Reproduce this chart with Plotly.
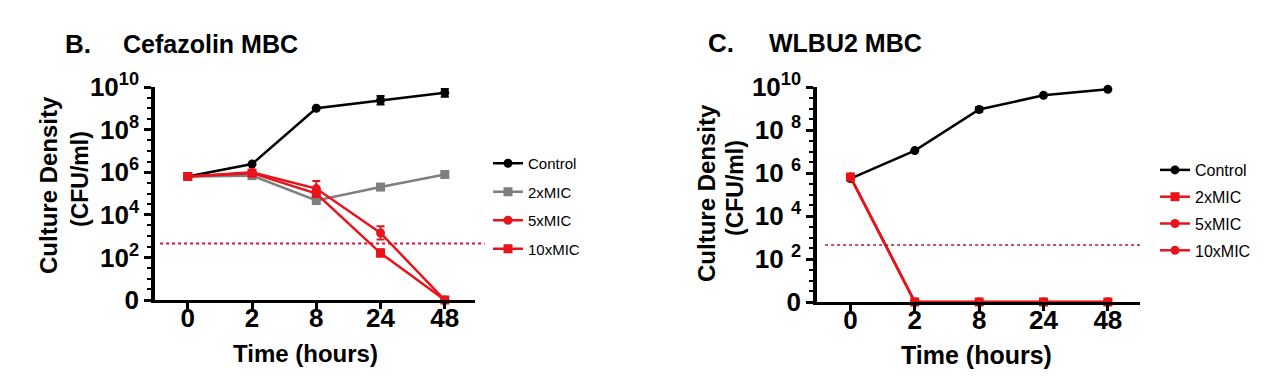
import plotly.graph_objects as go

# ---------------- data ----------------
time_labels = ["0", "2", "8", "24", "48"]

# Panel B: Cefazolin MBC (CFU/ml); 0 = below detection (plotted on the "0" baseline)
cef_control = [6.3e5, 2.4e6, 1.0e9, 2.4e9, 5.4e9]
cef_control_err_up = [0, 0, 0, 1.4e9, 2.6e9]
cef_control_err_dn = [0, 0, 0, 0.9e9, 1.9e9]
cef_2x = [6.3e5, 6.9e5, 4.7e4, 2.0e5, 7.8e5]
cef_5x = [6.3e5, 1.0e6, 1.7e5, 1.4e3, 0]
cef_5x_err_up = [0, 0, 2.2e5, 1.5e3, 0]
cef_5x_err_dn = [0, 0, 0.8e5, 0.7e3, 0]
cef_10x = [6.3e5, 9.0e5, 1.0e5, 1.6e2, 0]
cef_10x_err_up = [0, 0, 0, 8e1, 0]
cef_10x_err_dn = [0, 0, 0, 5e1, 0]

# Panel C: WLBU2 MBC
wl_control = [5.5e5, 1.1e7, 9.0e8, 4.1e9, 7.8e9]
wl_control_err_up = [0, 0, 2.5e8, 0, 0]
wl_control_err_dn = [0, 0, 2.0e8, 0, 0]
wl_2x = [6.5e5, 0, 0, 0, 0]
wl_5x = [6.5e5, 0, 0, 0, 0]
wl_10x = [6.5e5, 0, 0, 0, 0]

detection_limit = 450  # CFU/ml dotted line

ytick_vals = [1, 1e2, 1e4, 1e6, 1e8, 1e10]
ytick_text_b = ["0", "10<sup>2</sup>", "10<sup>4</sup>", "10<sup>6</sup>", "10<sup>8</sup>", "10<sup>10</sup>"]
ytick_text_c = ["0", "10 <sup>2</sup>", "10 <sup>4</sup>", "10 <sup>6</sup>", "10 <sup>8</sup>", "10<sup>10</sup>"]

# ---------------- style ----------------
BLACK = "#000000"
GRAY = "#7f7f7f"
RED = "#e8141c"
FONT = "Liberation Sans, Arial, sans-serif"
W, H = 1280, 384
DX, DY = 8, 8  # page offset of the plot div inside the browser window


def plot_vals(vals):
    # zero counts are drawn on the "0" baseline (10^0)
    return [v if v > 0 else 1 for v in vals]


def px_x(p):
    return (p - DX) / W


def px_y(p):
    return 1 - (p - DY) / H


fig = go.Figure()


def add_series(name, vals, color, symbol, xaxis, yaxis, legend, group,
               err_up=None, err_dn=None):
    tr = dict(
        x=time_labels,
        y=plot_vals(vals),
        name=name,
        mode="lines+markers",
        line=dict(color=color, width=2.5),
        marker=dict(color=color, symbol=symbol, size=9),
        xaxis=xaxis,
        yaxis=yaxis,
        legend=legend,
        legendgroup=group,
        cliponaxis=False,
    )
    if err_up is not None:
        tr["error_y"] = dict(type="data", symmetric=False, array=err_up,
                             arrayminus=err_dn, visible=True, color=color,
                             thickness=2, width=4)
    fig.add_trace(go.Scatter(**tr))


# Panel B
add_series("Control", cef_control, BLACK, "circle", "x", "y", "legend", "b1",
           cef_control_err_up, cef_control_err_dn)
add_series("2xMIC", cef_2x, GRAY, "square", "x", "y", "legend", "b2")
add_series("5xMIC", cef_5x, RED, "circle", "x", "y", "legend", "b3",
           cef_5x_err_up, cef_5x_err_dn)
add_series("10xMIC", cef_10x, RED, "square", "x", "y", "legend", "b4",
           cef_10x_err_up, cef_10x_err_dn)

# Panel C
add_series("Control", wl_control, BLACK, "circle", "x2", "y2", "legend2", "c1",
           wl_control_err_up, wl_control_err_dn)
add_series("2xMIC", wl_2x, RED, "square", "x2", "y2", "legend2", "c2")
add_series("5xMIC", wl_5x, RED, "circle", "x2", "y2", "legend2", "c3")
add_series("10xMIC", wl_10x, RED, "circle", "x2", "y2", "legend2", "c4")

minor_vals = [10 ** (k / 2) for k in range(0, 21)]


def yaxis_cfg(domain, ticktext, anchor):
    return dict(
        type="log", range=[0, 10], domain=domain, anchor=anchor,
        tickmode="array", tickvals=ytick_vals, ticktext=ticktext,
        ticks="outside", ticklen=7, tickwidth=2.5, tickcolor=BLACK,
        showline=True, linecolor=BLACK, linewidth=3.5,
        showgrid=False, zeroline=False, automargin=False,
        tickfont=dict(family=FONT, size=26, color=BLACK, weight="bold"),
        minor=dict(tickmode="array", tickvals=minor_vals, ticks="outside",
                   ticklen=4, tickwidth=2, tickcolor=BLACK, showgrid=False),
    )


def xaxis_cfg(domain, rng, anchor):
    return dict(
        type="category", domain=domain, range=rng, anchor=anchor,
        ticks="outside", ticklen=6, tickwidth=2.5, tickcolor=BLACK,
        ticklabelstandoff=-13,
        showline=True, linecolor=BLACK, linewidth=3,
        showgrid=False, zeroline=False, automargin=False,
        tickfont=dict(family=FONT, size=26, color=BLACK, weight="bold"),
    )


fig.update_layout(
    width=W, height=H, autosize=False,
    margin=dict(l=0, r=0, t=0, b=0, pad=0, autoexpand=False),
    paper_bgcolor="white", plot_bgcolor="white",
    font=dict(family=FONT, color=BLACK),
    xaxis=xaxis_cfg([px_x(155), px_x(475)], [-0.51, 4.47], "y"),
    yaxis=yaxis_cfg([px_y(300), px_y(87)], ytick_text_b, "x"),
    xaxis2=xaxis_cfg([px_x(817), px_x(1140)], [-0.52, 4.5], "y2"),
    yaxis2=yaxis_cfg([px_y(302), px_y(87)], ytick_text_c, "x2"),
    legend=dict(x=px_x(488), y=px_y(147), xanchor="left", yanchor="top",
                font=dict(family=FONT, size=15, color=BLACK),
                itemwidth=30, tracegroupgap=6, bgcolor="rgba(0,0,0,0)"),
    legend2=dict(x=px_x(1155), y=px_y(153), xanchor="left", yanchor="top",
                 font=dict(family=FONT, size=16, color=BLACK),
                 itemwidth=30, tracegroupgap=3, bgcolor="rgba(0,0,0,0)"),
    showlegend=True,
)

# detection-limit dotted lines
fig.add_shape(type="line", xref="x domain", yref="y", x0=0.016, x1=1.03,
              y0=detection_limit, y1=detection_limit,
              line=dict(color="#d0103a", width=2, dash="dot"))
fig.add_shape(type="line", xref="x2 domain", yref="y2", x0=0.025, x1=1.0,
              y0=detection_limit, y1=detection_limit,
              line=dict(color="#a01a3a", width=1.5, dash="dot"))


# text annotations
def ann(text, x, y, size, angle=0, xanchor="center"):
    fig.add_annotation(text=text, x=px_x(x), y=px_y(y), xref="paper", yref="paper",
                       showarrow=False, textangle=angle, xanchor=xanchor, yanchor="middle",
                       font=dict(family=FONT, size=size, color=BLACK, weight="bold"))


ann("B.", 63, 44, 26, xanchor="left")
ann("Cefazolin MBC", 121, 44, 25, xanchor="left")
ann("C.", 706, 43, 26, xanchor="left")
ann("WLBU2 MBC", 767, 43, 25, xanchor="left")

ann("Culture Density", 48, 185, 24, angle=-90)
ann("(CFU/ml)", 80, 179, 23, angle=-90)
ann("Culture Density", 707, 193, 24, angle=-90)
ann("(CFU/ml)", 735, 188, 23, angle=-90)

ann("Time (hours)", 305, 353, 24)
ann("Time (hours)", 976, 355, 25)

fig.write_html("out.html")
